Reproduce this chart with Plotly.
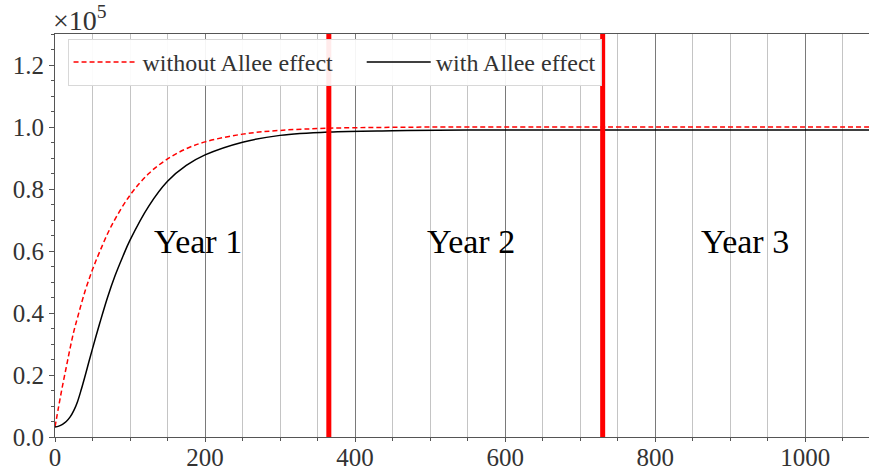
import plotly.graph_objects as go

# Days since introduction
days_free = [0, 5, 10, 15, 20, 25, 30, 40, 50, 60, 75, 100, 125, 150, 175, 200,
             250, 300, 365, 450, 550, 730, 1095]
# Population without Allee effect (x10^5)
n_free = [0.032, 0.10, 0.165, 0.225, 0.285, 0.34, 0.385, 0.47, 0.54, 0.60, 0.68,
          0.78, 0.85, 0.897, 0.93, 0.952, 0.977, 0.989, 0.996, 0.999, 1.0, 1.0, 1.0]

days_allee = [0, 5, 10, 15, 20, 25, 30, 35, 40, 45, 50, 55, 60, 70, 80, 90, 100,
              125, 150, 175, 200, 250, 300, 365, 450, 550, 730, 1095]
# Population with Allee effect (x10^5)
n_allee = [0.032, 0.035, 0.041, 0.050, 0.064, 0.085, 0.114, 0.153, 0.196, 0.241,
           0.285, 0.328, 0.37, 0.45, 0.52, 0.58, 0.635, 0.745, 0.825, 0.876, 0.91,
           0.951, 0.973, 0.984, 0.988, 0.99, 0.99, 0.99]

year_bounds = [365, 730]
year_labels = ["Year 1", "Year 2", "Year 3"]
year_label_x = [190, 555, 920]
year_label_y = 0.632

x_ticks = [0, 200, 400, 600, 800, 1000]
y_ticks = [0.0, 0.2, 0.4, 0.6, 0.8, 1.0, 1.2]

SERIF = "Liberation Serif"

fig = go.Figure()
fig.add_trace(go.Scatter(
    x=days_free, y=n_free, mode="lines",
    name="without Allee effect\u00a0\u00a0\u00a0\u00a0",
    line=dict(color="red", width=1.5, dash="5px,3px", shape="spline")))
fig.add_trace(go.Scatter(
    x=days_allee, y=n_allee, mode="lines", name="with Allee effect",
    line=dict(color="black", width=1.5, shape="spline")))

for xb in year_bounds:
    fig.add_shape(type="line", x0=xb, x1=xb, y0=0, y1=1, xref="x", yref="paper",
                  line=dict(color="red", width=5), layer="above")

for lbl, lx in zip(year_labels, year_label_x):
    fig.add_annotation(x=lx, y=year_label_y, text=lbl, showarrow=False,
                       font=dict(size=34, color="black", family=SERIF))

fig.add_annotation(x=0, y=1, xref="paper", yref="paper", xanchor="left",
                   yanchor="bottom", yshift=-4, xshift=-4, text="×10<sup>5</sup>",
                   showarrow=False,
                   font=dict(size=28, color="#333", family=SERIF))

fig.update_layout(
    width=869, height=472,
    margin=dict(l=55, r=0, t=34, b=35, autoexpand=False),
    plot_bgcolor="white", paper_bgcolor="white",
    font=dict(family=SERIF, size=25, color="#333"),
    showlegend=True,
    legend=dict(orientation="h", x=0.0154, y=0.988, xanchor="left", yanchor="top",
                bgcolor="rgba(255,255,255,0.92)", bordercolor="#d8d8d8", borderwidth=1,
                font=dict(size=24, color="#333", family=SERIF), itemwidth=64),
)
fig.update_xaxes(
    range=[0, 1085], tickvals=x_ticks, ticktext=[str(v) for v in x_ticks],
    automargin=False, tickfont=dict(size=25, family=SERIF, color="#333"),
    ticklabelstandoff=-6,
    showgrid=True, gridcolor="#7a7a7a", gridwidth=1,
    ticks="outside", ticklen=4, tickcolor="#555",
    minor=dict(dtick=50, tick0=0, showgrid=True, gridcolor="#c4c4c4", gridwidth=1,
               ticks="outside", ticklen=3, tickcolor="#555"),
    showline=True, linecolor="#555", linewidth=1, mirror=True, zeroline=False,
)
fig.update_yaxes(
    range=[0, 1.3], tickvals=y_ticks, ticktext=[f"{v:.1f}" for v in y_ticks],
    automargin=False, tickfont=dict(size=25, family=SERIF, color="#333"),
    showgrid=False, ticks="outside", ticklen=5, tickcolor="#555",
    minor=dict(dtick=0.05, tick0=0, ticks="outside", ticklen=3, tickcolor="#555"),
    showline=True, linecolor="#555", linewidth=1, zeroline=False,
)

fig.write_html("out.html", config={"displayModeBar": False},
               post_script="document.body.style.margin='0px';"
                           "document.body.style.overflow='hidden';")
